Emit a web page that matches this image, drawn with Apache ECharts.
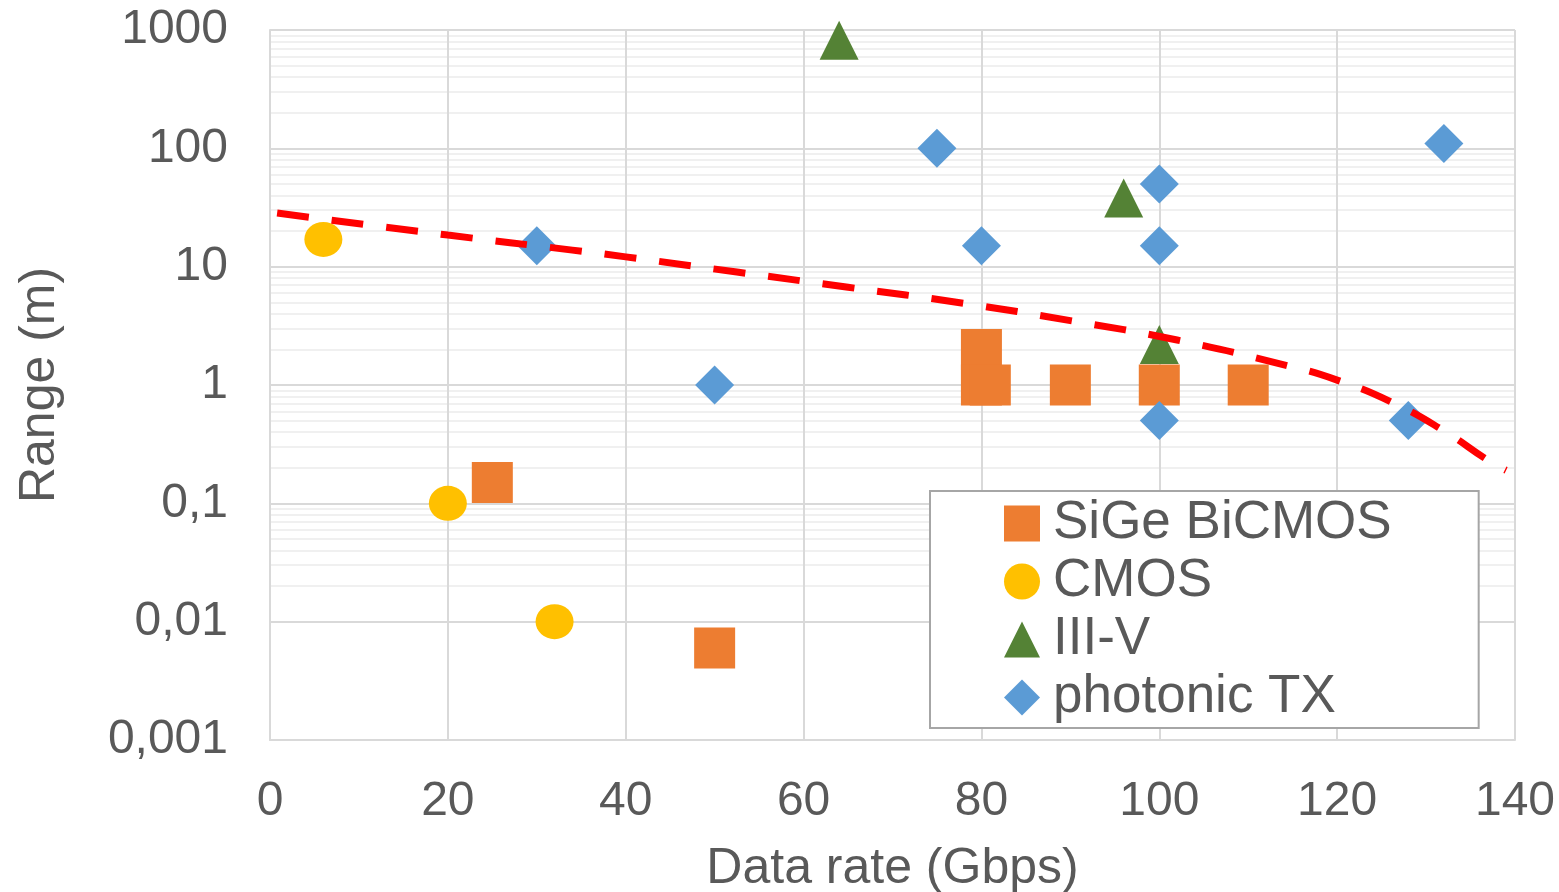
<!DOCTYPE html>
<html>
<head>
<meta charset="utf-8">
<title>Range vs data rate</title>
<script src="https://cdn.jsdelivr.net/npm/echarts@6/dist/echarts.min.js"></script>
<style>
  html, body { margin: 0; padding: 0; background: #fff; }
  #chart { width: 1559px; height: 892px; }
</style>
</head>
<body>
<div id="chart"></div>
<script>
// data
const sigeX = [25, 50, 80, 80, 81, 90, 100, 110];
const sigeY = [0.15, 0.006, 2, 1, 1, 1, 1, 1];
const cmosX = [6, 20, 32];
const cmosY = [17, 0.1, 0.01];
const iiivX = [64, 96, 100];
const iiivY = [820, 38, 2.2];
const photonicX = [30, 50, 75, 80, 100, 100, 100, 128, 132];
const photonicY = [15, 1, 100, 15, 50, 15, 0.5, 0.5, 110];
// red dashed trend line, sampled along the drawn curve
const trendX = [0.8, 20, 34, 40, 52.5, 65, 78, 90, 102, 114.5, 120, 126.4, 132, 137, 139];
const trendY = [28.4, 18.5, 13.8, 12.1, 9.0, 6.7, 4.9, 3.5, 2.4, 1.45, 1.1, 0.7, 0.41, 0.23, 0.19];

const xTicks = [0, 140, 20];          // min, max, step
const yDecades = [0.001, 1000];
const legendNames = ['SiGe BiCMOS', 'CMOS', 'III-V', 'photonic TX'];

const font = '"Liberation Sans", Arial, sans-serif';
const textColor = '#595959';

const pairs = (xs, ys) => xs.map((x, i) => [x, ys[i]]);

// light minor gridlines at 2..9 of every decade
const minorLines = [];
for (let d = yDecades[0]; d < yDecades[1] * 0.99; d *= 10) {
  for (let m = 2; m <= 9; m++) minorLines.push({ yAxis: +(d * m).toPrecision(3) });
}

const chart = echarts.init(document.getElementById('chart'), null, { renderer: 'canvas' });

const option = {
  animation: false,
  backgroundColor: '#fff',
  textStyle: { fontFamily: font },
  grid: { left: 270, right: 44, top: 30, bottom: 152, containLabel: false, outerBoundsMode: 'none' },
  legend: {
    data: legendNames,
    orient: 'vertical',
    left: 930,
    top: 491,
    z: 10,
    backgroundColor: '#fff',
    borderColor: '#A6A6A6',
    borderWidth: 2,
    padding: [6, 87, 4, 74],
    itemWidth: 36,
    itemHeight: 36,
    itemGap: 5,
    textStyle: { fontSize: 53, color: textColor, fontFamily: font, padding: [0, 0, 0, 8] }
  },
  xAxis: {
    type: 'value',
    min: xTicks[0],
    max: xTicks[1],
    interval: xTicks[2],
    z: 1,
    name: 'Data rate (Gbps)',
    nameLocation: 'middle',
    nameGap: 104,
    nameTextStyle: { fontSize: 50, color: textColor, fontFamily: font },
    axisLine: { lineStyle: { color: '#D9D9D9', width: 2 } },
    axisTick: { show: false },
    axisLabel: { fontSize: 48, color: textColor, margin: 38, fontFamily: font },
    splitLine: { show: true, lineStyle: { color: '#D9D9D9', width: 2 } }
  },
  yAxis: {
    type: 'log',
    logBase: 10,
    min: yDecades[0],
    max: yDecades[1],
    splitNumber: 6,
    z: 1,
    name: 'Range (m)',
    nameLocation: 'middle',
    nameGap: 205,
    nameTextStyle: { fontSize: 50, color: textColor, fontFamily: font },
    axisLine: { show: true, lineStyle: { color: '#D9D9D9', width: 2 } },
    axisTick: { show: false },
    axisLabel: {
      fontSize: 48,
      color: textColor,
      margin: 42,
      fontFamily: font,
      formatter: v => String(+(+v).toPrecision(3)).replace('.', ',')
    },
    splitLine: { show: true, lineStyle: { color: '#D9D9D9', width: 2 } }
  },
  series: [
    {
      name: 'minor',
      type: 'line',
      data: [],
      z: 0,
      silent: true,
      markLine: {
        z: 0,
        silent: true,
        symbol: ['none', 'none'],
        label: { show: false },
        lineStyle: { color: '#F0F0F0', width: 2, type: 'solid' },
        emphasis: { disabled: true },
        data: minorLines
      }
    },
    {
      name: 'SiGe BiCMOS',
      type: 'scatter',
      symbol: 'rect',
      symbolSize: 41,
      itemStyle: { color: '#ED7D31', opacity: 1 },
      data: pairs(sigeX, sigeY)
    },
    {
      name: 'CMOS',
      type: 'scatter',
      symbol: 'circle',
      symbolSize: [38, 35],
      itemStyle: { color: '#FFC000', opacity: 1 },
      data: pairs(cmosX, cmosY)
    },
    {
      name: 'III-V',
      type: 'scatter',
      symbol: 'triangle',
      symbolSize: 39,
      itemStyle: { color: '#548235', opacity: 1 },
      data: pairs(iiivX, iiivY)
    },
    {
      name: 'photonic TX',
      type: 'scatter',
      symbol: 'diamond',
      symbolSize: 39,
      itemStyle: { color: '#5B9BD5', opacity: 1 },
      data: pairs(photonicX, photonicY)
    },
    {
      name: 'trend',
      type: 'line',
      smooth: true,
      showSymbol: false,
      symbol: 'none',
      z: 3,
      silent: true,
      clip: false,
      lineStyle: { color: '#FF0000', width: 7, type: [32, 23] },
      data: pairs(trendX, trendY)
    }
  ]
};

chart.setOption(option);
</script>
</body>
</html>
